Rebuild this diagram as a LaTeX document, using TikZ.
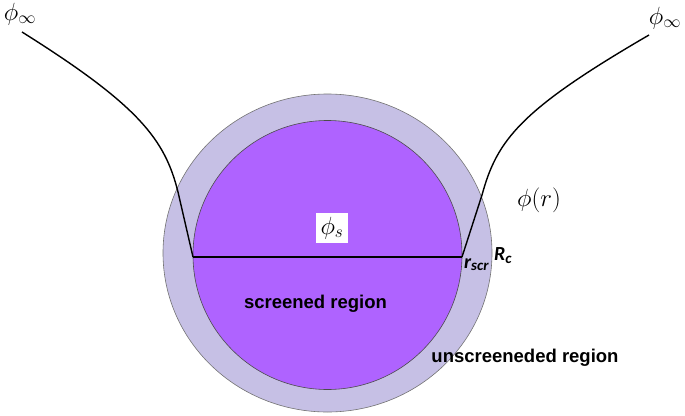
\documentclass[tikz,border=0pt]{standalone}
\usepackage{fontspec}
\setmainfont{Liberation Sans}
\newfontfamily\calibrifont{Carlito}
\usepackage{amsmath}
\usetikzlibrary{positioning}
\definecolor{outerlav}{RGB}{198,192,229}
\definecolor{innerpurp}{RGB}{175,99,255}

\begin{document}
\begin{tikzpicture}[
      x=1pt, y=-1pt,
      region/.style={
        inner sep=0pt,
        font=\fontsize{18.5}{20}\selectfont\bfseries
      },
      philabel/.style={
        inner sep=0pt,
        font=\fontsize{25}{30}\selectfont
      },
      radlabel/.style={
        inner sep=0pt,
        font=\calibrifont\fontsize{20}{22}\selectfont\bfseries\itshape
      },
      potential/.style={
        draw=black,
        line width=1.4pt
      }
    ]

    \useasboundingbox (0,0) rectangle (685,415);

    % the two regions
    \fill [outerlav, draw=black!55, line width=0.6pt] (327.5,253) ellipse [x radius=164.5, y radius=159];
    \fill [innerpurp, draw=black!70, line width=0.6pt] (327.5,255) circle [radius=134.5];

    \coordinate (infL) at (22,32);
    \coordinate (infR) at (649,35);
    \coordinate (scrL) at (193,257);
    \coordinate (scrR) at (462,257);

    % phi(r) profile
    \draw [potential] (infL) .. controls (140,106) and (165,140) .. (178,192) -- (scrL);
    \draw [potential] (infR) .. controls (520,110) and (497,140) .. (482,195) -- (scrR);
    \draw [potential, line width=1.8pt] (scrL) -- (scrR);

    \node [philabel] (PhiInfL) at (20,14) {$\phi_\infty$};
    \node [philabel] (PhiInfR) at (665,18) {$\phi_\infty$};
    \node [philabel] (PhiR) at (539,200) {$\phi(r)$};
    \node [philabel, fill=white, minimum width=32pt, minimum height=30pt] (PhiS) at (332,228) {$\phi_s$};

    \node [radlabel, anchor=base west] (Rscr) at (464,268) {r\raisebox{-0.25ex}{\fontsize{15}{15}\selectfont scr}};
    \node [radlabel, anchor=base west] (Rc) at (494,260) {R\raisebox{-0.35ex}{\fontsize{15}{15}\selectfont c}};

    \node [region] (Screened) at (315.5,304) {screened region};
    \node [region] (Unscreened) at (525,358) {unscreeneded region};

    \end{tikzpicture}
\end{document}
